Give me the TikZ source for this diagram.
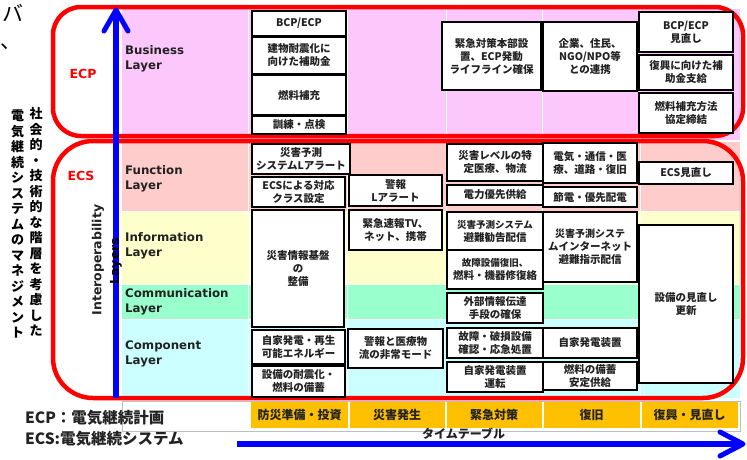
\documentclass[tikz,border=0pt]{standalone}
\usepackage{fontspec}
\setmainfont{Noto Sans CJK JP}
\newfontfamily\dejavu{DejaVu Sans}
\definecolor{busc}{HTML}{FCC8FC}
\definecolor{func}{HTML}{FFCCCC}
\definecolor{infc}{HTML}{FFFFCC}
\definecolor{comc}{HTML}{99FFCC}
\definecolor{cmpc}{HTML}{CCFFFF}
\definecolor{tlc}{HTML}{FFC000}
\definecolor{txc}{HTML}{222222}
\newcommand\mybox[6]{%
  \pgfmathsetmacro\bw{#4-#2}\pgfmathsetmacro\bh{#5-#3}%
  \node[box, minimum width=\bw pt, minimum height=\bh pt] (#1) at ({(#2+#4)/2},{(#3+#5)/2}) {#6};}
\begin{document}
\begin{tikzpicture}[x=1pt,y=-1pt,
  box/.style={draw=black, line width=2.2pt, fill=white, inner sep=0pt, align=center, text=txc, font=\bfseries\fontsize{10.5}{13}\selectfont},
  layer/.style={anchor=west, align=left, inner sep=0pt, text=txc, font=\dejavu\bfseries\fontsize{11.8}{15}\selectfont},
  tlcell/.style={fill=tlc, inner sep=0pt, text=txc, font=\bfseries\fontsize{12}{14}\selectfont},
  redlbl/.style={text=red, inner sep=0pt, font=\dejavu\bfseries\fontsize{12.5}{14}\selectfont},
  vjp/.style={align=center, inner sep=0pt, text=black, font=\bfseries\fontsize{13}{15.5}\selectfont},
  bluebar/.style={draw=blue, line width=6pt},
  chev/.style={draw=blue, line width=5pt, line cap=round, line join=round},
  redframe/.style={draw=red, line width=4.5pt},
  sep/.style={draw=white, line width=1pt},
  grayline/.style={draw=black!25, line width=0.8pt}]
\useasboundingbox (0,0) rectangle (747,459);
\fill[white] (0,0) rectangle (747,459);
% row backgrounds
\fill[busc] (122,9) rectangle (740,140);
\fill[func] (122,142) rectangle (740,211);
\fill[infc] (122,211) rectangle (740,284);
\fill[comc] (122,284) rectangle (740,319);
\fill[cmpc] (122,319) rectangle (740,398);
\foreach \xx in {248,347,446,542,640} {\draw[sep] (\xx,9) -- (\xx,398);}
\foreach \yy in {211,284,319} {\draw[sep] (122,\yy) -- (740,\yy);}
% timeline frame
\draw[grayline] (740,401) -- (122,401) -- (122,431) -- (740,431) -- (740,401);
% timeline cells
\node[tlcell, minimum width=97pt, minimum height=26pt] (t1) at (299.5,415) {防災準備・投資};
\node[tlcell, minimum width=95pt, minimum height=26pt] (t2) at (397,415) {災害発生};
\node[tlcell, minimum width=95pt, minimum height=26pt] (t3) at (494,415) {緊急対策};
\node[tlcell, minimum width=96pt, minimum height=26pt] (t4) at (591.5,415) {復旧};
\node[tlcell, minimum width=96pt, minimum height=26pt] (t5) at (689.5,415) {復興・見直し};
% red frames
\draw[redframe, rounded corners=28pt] (53,7) rectangle (743,136);
\draw[redframe, rounded corners=40pt] (53,141) rectangle (743,398);
\node[redlbl] (ecp) at (83,74) {ECP};
\node[redlbl] (ecs) at (81,176) {ECS};
% blue arrows
\coordinate (va0) at (116,398);
\coordinate (va1) at (116,10);
\coordinate (val) at (104,31);
\coordinate (var) at (128,31);
\draw[bluebar] (va0) -- (va1);
\draw[chev] (val) -- (va1) -- (var);
\coordinate (ha0) at (237,444);
\coordinate (ha1) at (743,444);
\coordinate (hal) at (720,432);
\coordinate (har) at (720,456);
\draw[bluebar] (ha0) -- (ha1);
\draw[chev] (hal) -- (ha1) -- (har);
% axis labels
\node[rotate=90, inner sep=0pt, text=txc, font=\dejavu\bfseries\fontsize{12.5}{14}\selectfont] (iop) at (98,260) {Interoperability};
\node[rotate=90, inner sep=0pt, text=black, font=\dejavu\bfseries\fontsize{12.5}{14}\selectfont] (lys) at (116,261) {Layers};
\node[vjp] (vj1) at (36,222) {社\\会\\的\\・\\技\\術\\的\\な\\階\\層\\を\\考\\慮\\し\\た};
\node[vjp] (vj2) at (17.5,224) {電\\気\\継\\続\\シ\\ス\\テ\\ム\\の\\マ\\ネ\\ジ\\メ\\ン\\ト};
\node[inner sep=0pt, font=\fontsize{21}{21}\selectfont] (fr1) at (13,13) {バ};
\node[inner sep=0pt, font=\fontsize{21}{21}\selectfont] (fr2) at (11,47) {、};
% layer labels
\node[layer] (lb) at (125,59) {Business\\Layer};
\node[layer] (lf) at (125,179) {Function\\Layer};
\node[layer] (li) at (125,246) {Information\\Layer};
\node[layer] (lc) at (125,302) {Communication\\Layer};
\node[layer] (lp) at (125,354) {Component\\Layer};
% business
\mybox{b1}{252}{11}{346}{36}{BCP/ECP}
\mybox{b2}{252}{37}{346}{74}{建物耐震化に\\向けた補助金}
\mybox{b3}{252}{75}{346}{115}{燃料補充}
\mybox{b4}{252}{116}{346}{134}{訓練・点検}
\mybox{b5}{442}{22}{541}{90}{緊急対策本部設\\置、ECP発動\\ライフライン確保}
\mybox{b6}{543}{22}{637}{91}{企業、住民、\\NGO/NPO等\\との連携}
\mybox{b7}{639}{12}{733}{52}{BCP/ECP\\見直し}
\mybox{b8}{639}{55}{733}{90}{復興に向けた補\\助金支給}
\mybox{b9}{639}{93}{733}{133}{燃料補充方法\\協定締結}
% function
\mybox{f1}{252}{144}{350}{174}{災害予測\\システムLアラート}
\mybox{f2}{252}{177}{345}{207}{ECSによる対応\\クラス設定}
\mybox{f3}{349}{175}{442}{206}{警報\\Lアラート}
\mybox{f4}{447}{144}{543}{181}{災害レベルの特\\定医療、物流}
\mybox{f5}{447}{185}{543}{205}{電力優先供給}
\mybox{f6}{543}{143}{637}{183}{電気・通信・医\\療、道路・復旧}
\mybox{f7}{543}{187}{637}{207}{節電・優先配電}
\mybox{f8}{639}{162}{733}{184}{ECS見直し}
% information / communication
\mybox{i1}{252}{210}{344}{327}{災害情報基盤\\の\\整備}
\mybox{i2}{349}{210}{442}{250}{緊急速報TV、\\ネット、携帯}
\mybox{i3}{447}{212}{543}{250}{\fontsize{9.5}{12.5}\selectfont 災害予測システム\\避難勧告配信}
\mybox{i4}{447}{250}{543}{289}{\fontsize{9.5}{12.5}\selectfont 故障設備復旧、\\燃料・機器修復絡}
\mybox{i5}{543}{212}{637}{282}{\fontsize{10}{13}\selectfont 災害予測システ\\ムインターネット\\避難指示配信}
\mybox{i6}{639}{225}{733}{383}{設備の見直し\\更新}
\mybox{c1}{447}{293}{543}{323}{外部情報伝達\\手段の確保}
% component
\mybox{p1}{252}{330}{345}{364}{自家発電・再生\\可能エネルギー}
\mybox{p2}{252}{366}{345}{397}{設備の耐震化・\\燃料の備蓄}
\mybox{p3}{348}{329}{443}{368}{警報と医療物\\流の非常モード}
\mybox{p4}{447}{328}{543}{358}{故障・破損設備\\確認・応急処置}
\mybox{p5}{447}{362}{543}{392}{自家発電装置\\運転}
\mybox{p6}{543}{328}{637}{358}{自家発電装置}
\mybox{p7}{543}{362}{637}{390}{燃料の備蓄\\安定供給}
% bottom texts
\node[anchor=west, inner sep=0pt, text=txc, font=\bfseries\fontsize{12}{14}\selectfont] (tt) at (422,434) {タイムテーブル};
\node[anchor=west, inner sep=0pt, text=txc, font=\bfseries\fontsize{15.5}{18}\selectfont] (k1) at (25,418) {ECP：電気継続計画};
\node[anchor=west, inner sep=0pt, text=txc, font=\bfseries\fontsize{15.5}{18}\selectfont] (k2) at (25,439) {ECS:電気継続システム};
\end{tikzpicture}
\end{document}
